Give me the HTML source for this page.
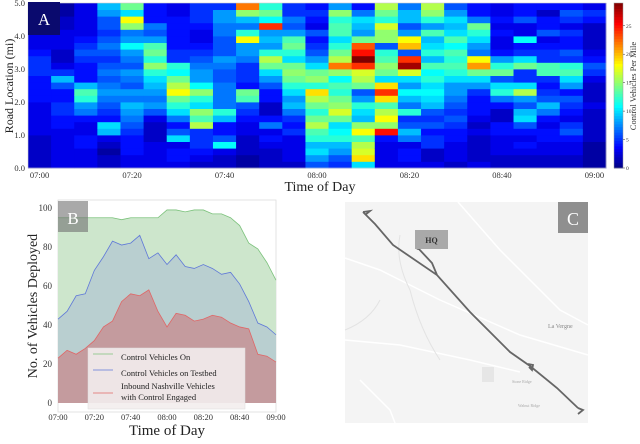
<!DOCTYPE html>
<html><head><meta charset="utf-8"><style>
body{margin:0;background:#fff;width:640px;height:439px;overflow:hidden}
text{font-family:"Liberation Serif",serif}
</style></head><body>
<svg id="fig" width="640" height="439" viewBox="0 0 640 439" xmlns="http://www.w3.org/2000/svg">
<g id="heat"></g>
<g id="cbar"></g>
<g id="panelB"></g>
<g id="map">
 <rect x="345" y="202" width="243" height="221" fill="#f4f4f4"/>
 <g stroke="#fff" stroke-width="1.5" fill="none">
  <path d="M458,202 L500,250 L560,310 L588,325"/>
  <path d="M345,258 L380,270 L440,300 L520,335 L588,355"/>
  <path d="M360,380 L390,410 L395,423"/>
  <path d="M345,340 L400,345 L470,360 L520,372"/>
 </g>
 <g stroke="#e3e3e3" stroke-width="1" fill="none">
  <path d="M400,235 Q395,260 410,290 Q420,330 440,360"/>
  <path d="M345,330 Q370,320 380,300"/>
 </g>
 <rect x="482" y="367" width="12" height="15" fill="#e6e6e6"/>
 <text x="548" y="328" font-size="6" fill="#888" font-family="Liberation Sans,sans-serif">La Vergne</text>
 <text x="512" y="383" font-size="4" fill="#aaa" font-family="Liberation Sans,sans-serif">Stone Ridge</text>
 <text x="518" y="407" font-size="4" fill="#aaa" font-family="Liberation Sans,sans-serif">Walnut Ridge</text>
 <path d="M363,212 L375,224 L393,245 L437,275 L470,312 L510,352 L530,366 L557,388 L578,408 M363,212 L370,211 L365,215 M437,275 L432,263 L418,248 M528,364 L533,365 L532,370 L529,367 M578,408 L583,410 L578,414" stroke="#666" stroke-width="1.8" fill="none"/>
 <circle cx="418" cy="248" r="1.8" fill="#555"/>
 <rect x="415" y="230" width="33" height="19" fill="#a9a9a9"/>
 <text x="431.5" y="243" font-size="8" font-weight="bold" text-anchor="middle" fill="#333">HQ</text>
 <rect x="558" y="202" width="30" height="31" fill="#8f8f8f"/>
 <text x="573" y="225" font-size="18" text-anchor="middle" fill="#fff">C</text>
</g>
</svg>
<script>
// ---------- Panel A data ----------
const heatTimes = ["07:00","07:05","07:10","07:15","07:20","07:25","07:30","07:35","07:40","07:45","07:50","07:55","08:00","08:05","08:10","08:15","08:20","08:25","08:30","08:35","08:40","08:45","08:50","08:55","09:00"];
const heatRowsMi = [0,0.2,0.4,0.6,0.8,1.0,1.2,1.4,1.6,1.8,2.0,2.2,2.4,2.6,2.8,3.0,3.2,3.4,3.6,3.8,4.0,4.2,4.4,4.6,4.8];
const heatValues = [
[2,2,2,2,2,3,3,3,3,3,4,4,4,4,5,5,5,4,3,3,3,2,1,1,1],
[3,3,3,3,3,3,4,4,5,5,4,4,6,9,5,3,2,2,3,3,3,2,2,1,1],
[3,3,3,4,4,3,3,4,7,8,12,13,9,4,4,4,5,6,5,4,3,3,3,3,3],
[2,2,1,2,3,9,10,4,5,6,7,8,7,6,7,6,5,6,7,6,5,6,6,8,9],
[3,3,4,4,4,5,6,7,8,9,7,8,6,7,8,6,7,8,11,8,7,15,18,10,14],
[3,3,3,3,2,2,2,3,6,8,7,8,9,10,12,15,12,14,13,8,6,7,4,4,4],
[3,4,4,3,10,6,4,7,10,12,14,18,16,14,11,12,5,5,4,4,4,4,4,3,3],
[2,3,4,5,5,5,16,13,15,10,12,15,11,8,8,7,6,5,4,3,3,4,5,5,5],
[2,2,3,11,6,4,4,9,12,7,7,7,7,6,6,7,8,6,6,6,7,7,8,8,5],
[1,1,2,2,2,3,3,4,5,6,13,14,4,5,5,5,7,8,8,18,12,7,9,15,22],
[2,2,2,3,4,3,7,4,2,2,4,4,6,8,10,14,16,12,8,9,8,24,11,14,12],
[2,3,3,3,3,5,4,5,7,9,8,10,12,14,15,14,10,12,14,13,8,6,7,5,5],
[6,8,10,9,12,13,16,14,12,14,16,19,12,15,14,10,8,6,5,4,6,3,4,5,4],
[5,6,8,9,12,11,10,14,17,15,14,12,13,11,15,22,16,14,12,10,13,13,12,15,8],
[10,19,17,16,13,18,15,9,10,12,8,6,14,16,17,24,29,25,23,14,8,9,10,7,4],
[3,3,3,3,4,25,15,18,16,13,19,24,19,10,14,15,13,12,6,15,15,17,12,14,16],
[3,4,4,3,7,9,6,5,12,7,9,11,8,10,17,28,24,6,20,18,8,6,9,9,7],
[3,2,2,5,5,4,6,5,6,9,10,11,10,12,11,13,9,12,10,9,13,8,12,15,16],
[2,3,3,3,4,4,5,6,5,6,7,8,8,10,12,13,12,13,11,13,10,9,10,8,6],
[3,2,2,2,2,3,2,3,4,4,4,5,8,10,14,21,18,7,8,10,12,14,7,4,4],
[2,2,3,3,3,4,4,2,2,4,7,12,10,6,14,12,8,4,3,3,4,3,4,3,3],
[2,2,3,4,3,4,6,10,9,6,8,16,10,5,5,14,10,5,4,11,3,3,6,4,4],
[2,2,3,3,4,4,3,4,7,9,6,5,4,5,13,13,5,5,4,3,6,4,4,2,4],
[2,2,3,3,4,6,5,3,4,5,6,4,8,10,13,12,5,6,4,4,5,3,5,6,4],
[1,1,1,1,2,2,2,2,2,3,2,2,2,3,5,6,4,3,2,2,2,2,4,5,3]
];
const heatXTicks = ["07:00","07:20","07:40","08:00","08:20","08:40","09:00"];
const heatYTicks = [0,1,2,3,4,5];
const cbarTicks = [0,5,10,15,20,25];
const cbarMax = 29;

// ---------- Panel B data ----------
const bTimes = heatTimes;
const seriesOn = [95,95,95,95,95,95,95,94,95,95,95,95,99,99,98,99,99,97,97,95,91,82,79,72,63];
const seriesTestbed = [43,47,55,56,68,75,83,81,82,86,74,77,71,76,70,69,71,69,66,67,61,52,41,39,35];
const seriesEngaged = [23,27,25,28,32,39,42,52,56,55,58,47,39,46,45,42,43,45,44,41,39,38,25,24,21];
const bYTicks = [0,20,40,60,80,100];
const bXTicks = ["07:00","07:20","07:40","08:00","08:20","08:40","09:00"];

const NS="http://www.w3.org/2000/svg";
function mk(parent,tag,attrs,text){const e=document.createElementNS(NS,tag);for(const k in attrs)e.setAttribute(k,attrs[k]);if(text!==undefined)e.textContent=text;parent.appendChild(e);return e;}
function mins(t){const p=t.split(":");return (+p[0])*60+(+p[1])-420;}
function jet(v){let t=Math.max(0,Math.min(1,v/cbarMax));
 const r=Math.max(0,Math.min(1,1.5-Math.abs(4*t-3))),g=Math.max(0,Math.min(1,1.5-Math.abs(4*t-2))),b=Math.max(0,Math.min(1,1.5-Math.abs(4*t-1)));
 return `rgb(${Math.round(r*255)},${Math.round(g*255)},${Math.round(b*255)})`;}

// Panel A
const H=document.getElementById('heat');
const ax0=28, ax1=606, ay0=3, ay1=168;
const colW=(ax1-ax0)/heatTimes.length;
const xA=t=>ax0+(mins(t)/5+0.5)*colW;
const yA=mi=>ay1-(mi/5)*(ay1-ay0);
const rowH=(ay1-ay0)/heatRowsMi.length;
heatValues.forEach((col,ci)=>{col.forEach((v,ri)=>{
 const r=mk(H,'rect',{x:(xA(heatTimes[ci])-colW/2).toFixed(2),y:(yA(heatRowsMi[ri])-rowH).toFixed(2),width:(colW+0.4).toFixed(2),height:(rowH+0.4).toFixed(2),fill:jet(v)});
 
 
});});
mk(H,'rect',{x:ax0,y:ay0,width:ax1-ax0,height:ay1-ay0,fill:'none',stroke:'#ccc','stroke-width':0.6});
const aLbl=mk(H,'rect',{x:28,y:2,width:32,height:33,fill:'#0a0a6e'});


mk(H,'text',{x:44,y:25,'font-size':17,'text-anchor':'middle',fill:'#fff'},'A');
heatXTicks.forEach(t=>{const e=mk(H,'text',{x:xA(t),y:178,'font-size':8.5,'text-anchor':'middle',fill:'#333'},t);
 
 });
heatYTicks.forEach(v=>{const e=mk(H,'text',{x:25,y:yA(v)+3,'font-size':8.5,'text-anchor':'end',fill:'#333'},v.toFixed(1));
 
 });
const ayt=mk(H,'text',{x:13,y:86,'font-size':12,'text-anchor':'middle',fill:'#222',transform:'rotate(-90 13 86)'},'Road Location (mi)');


const axt=mk(H,'text',{x:320,y:191,'font-size':14,'text-anchor':'middle',fill:'#222'},'Time of Day');



// Colorbar
const C=document.getElementById('cbar');
const cx=614,cw=9;
for(let i=0;i<60;i++){const v0=i/60*cbarMax;
 mk(C,'rect',{x:cx,y:(ay1-(i+1)/60*(ay1-ay0)).toFixed(2),width:cw,height:((ay1-ay0)/60+0.4).toFixed(2),fill:jet(v0+cbarMax/120)});}
mk(C,'rect',{x:cx,y:ay0,width:cw,height:ay1-ay0,fill:'none',stroke:'#999','stroke-width':0.5});
cbarTicks.forEach(v=>{const y=ay1-v/cbarMax*(ay1-ay0);
 mk(C,'line',{x1:cx+cw,x2:cx+cw+2,y1:y,y2:y,stroke:'#333','stroke-width':0.5});
 const e=mk(C,'text',{x:cx+cw+3,y:y+2,'font-size':5.5,fill:'#333','font-family':'Liberation Sans,sans-serif'},String(v));
 
 });
const cbt=mk(C,'text',{x:636,y:86,'font-size':8.5,'text-anchor':'middle',fill:'#333',transform:'rotate(-90 636 86)'},'Control Vehicles Per Mile');



// Panel B
const B=document.getElementById('panelB');
const bx0=58,bx1=276,by0=403,by100=208;
const xB=t=>bx0+mins(t)/120*(bx1-bx0);
const yB=v=>by0-v/100*(by0-by100);
mk(B,'rect',{x:bx0,y:200,width:bx1-bx0,height:212,fill:'#fff',stroke:'#ddd','stroke-width':0.8});
function area(vals,fill,stroke,name){
 let d=`M${xB(bTimes[0])},${yB(0)}`;vals.forEach((v,i)=>d+=` L${xB(bTimes[i]).toFixed(2)},${yB(v).toFixed(2)}`);d+=` L${xB(bTimes[bTimes.length-1])},${yB(0)} Z`;
 const a=mk(B,'path',{d:d,fill:fill});
 
 
 let l='';vals.forEach((v,i)=>l+=(i?' L':'M')+xB(bTimes[i]).toFixed(2)+','+yB(v).toFixed(2));
 const p=mk(B,'path',{d:l,fill:'none',stroke:stroke,'stroke-width':0.8});
 
 
}
area(seriesOn,'#cde6cc','#7cc27c','control-vehicles-on');
area(seriesTestbed,'#b9cfd0','#5f78d8','control-vehicles-testbed');
area(seriesEngaged,'#c49b9e','#e06666','inbound-engaged');
const bl=mk(B,'rect',{x:58,y:201,width:30,height:31,fill:'#6f6f6f','fill-opacity':0.6});


mk(B,'text',{x:73,y:224,'font-size':17,'text-anchor':'middle',fill:'#fff'},'B');
// legend
const lg=mk(B,'g',{});


mk(lg,'rect',{x:88,y:348,width:157,height:61,fill:'#f3eded','fill-opacity':0.9,stroke:'#ddd','stroke-width':0.5});
const legItems=[["Control Vehicles On","#7cc27c",357,[]],["Control Vehicles on Testbed","#5f78d8",373,[]],["Inbound Nashville Vehicles","#e06666",386,[" with Control Engaged"]]];
legItems.forEach(it=>{
 const ly=it[0]==="Inbound Nashville Vehicles"?393:it[2]-3;
 mk(lg,'line',{x1:93,x2:113,y1:ly,y2:ly,stroke:it[1],'stroke-width':0.8});
 const t=mk(lg,'text',{x:121,y:it[2]+3,'font-size':8.5,fill:'#222'},it[0]);
 
 
 it[3].forEach(s=>mk(lg,'text',{x:121,y:it[2]+14,'font-size':8.5,fill:'#222'},s));
});
bYTicks.forEach(v=>{const e=mk(B,'text',{x:52,y:yB(v)+3,'font-size':9,'text-anchor':'end',fill:'#333'},String(v));
 
 });
bXTicks.forEach(t=>{const e=mk(B,'text',{x:xB(t),y:420,'font-size':8.5,'text-anchor':'middle',fill:'#333'},t);
 
 });
const byt=mk(B,'text',{x:37,y:306,'font-size':14,'text-anchor':'middle',fill:'#222',transform:'rotate(-90 37 306)'},'No. of Vehicles Deployed');


const bxt=mk(B,'text',{x:167,y:435,'font-size':15,'text-anchor':'middle',fill:'#222'},'Time of Day');


</script>
</body></html>
